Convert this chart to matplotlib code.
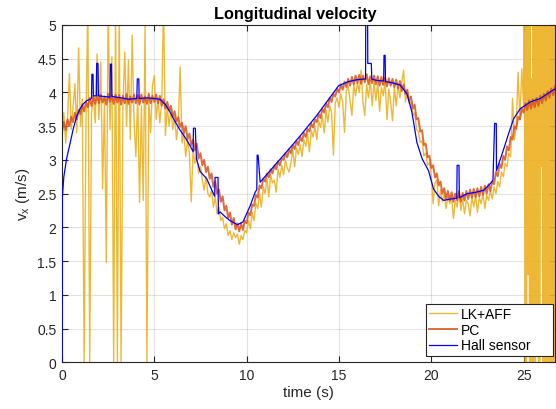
import numpy as np
import matplotlib
matplotlib.use("Agg")
import matplotlib.pyplot as plt

plt.rcParams['font.family'] = ['Liberation Sans', 'DejaVu Sans']
plt.rcParams['mathtext.default'] = 'regular'

# PC estimate, sampled every 0.1 s from 0 to 26.8 s (one row per second)
pc_v = [
    3.42, 3.56, 3.44, 3.60, 3.50, 3.64, 3.56, 3.70, 3.60, 3.74,
    3.68, 3.82, 3.72, 3.86, 3.78, 3.92, 3.80, 3.95, 3.83, 3.96,
    3.84, 3.97, 3.85, 3.94, 3.82, 3.98, 3.86, 3.96, 3.83, 3.97,
    3.85, 3.96, 3.82, 3.95, 3.84, 3.98, 3.83, 3.94, 3.85, 3.97,
    3.84, 3.96, 3.82, 3.97, 3.85, 3.94, 3.83, 3.98, 3.84, 3.95,
    3.86, 3.97, 3.84, 3.95, 3.80, 3.90, 3.76, 3.86, 3.74, 3.80,
    3.64, 3.72, 3.57, 3.63, 3.49, 3.55, 3.40, 3.50, 3.31, 3.39,
    3.22, 3.30, 3.14, 3.24, 3.02, 3.10, 2.92, 3.00, 2.82, 2.90,
    2.72, 2.80, 2.60, 2.68, 2.50, 2.56, 2.38, 2.46, 2.25, 2.32,
    2.14, 2.22, 2.04, 2.14, 1.97, 2.06, 1.94, 2.06, 1.96, 2.10,
    2.06, 2.22, 2.18, 2.34, 2.32, 2.48, 2.44, 2.62, 2.58, 2.72,
    2.68, 2.80, 2.74, 2.86, 2.80, 2.92, 2.86, 2.98, 2.92, 3.02,
    3.00, 3.10, 3.04, 3.16, 3.10, 3.22, 3.16, 3.28, 3.22, 3.34,
    3.28, 3.40, 3.34, 3.46, 3.42, 3.54, 3.48, 3.60, 3.56, 3.68,
    3.62, 3.76, 3.70, 3.84, 3.78, 3.92, 3.86, 3.98, 3.94, 4.06,
    4.00, 4.12, 4.04, 4.16, 4.08, 4.20, 4.10, 4.23, 4.12, 4.25,
    4.14, 4.26, 4.13, 4.25, 4.15, 4.27, 4.12, 4.24, 4.14, 4.25,
    4.12, 4.24, 4.10, 4.23, 4.11, 4.22, 4.09, 4.21, 4.10, 4.20,
    4.08, 4.19, 4.06, 4.17, 4.02, 4.12, 3.98, 4.04, 3.88, 3.94,
    3.76, 3.82, 3.60, 3.62, 3.42, 3.44, 3.22, 3.24, 3.04, 3.06,
    2.88, 2.92, 2.74, 2.80, 2.62, 2.68, 2.50, 2.58, 2.42, 2.54,
    2.40, 2.52, 2.38, 2.50, 2.40, 2.53, 2.38, 2.51, 2.40, 2.54,
    2.42, 2.56, 2.44, 2.57, 2.45, 2.58, 2.46, 2.60, 2.48, 2.62,
    2.50, 2.64, 2.54, 2.68, 2.64, 2.82, 2.76, 2.94, 2.88, 3.06,
    3.00, 3.20, 3.14, 3.34, 3.30, 3.50, 3.46, 3.64, 3.60, 3.76,
    3.70, 3.84, 3.74, 3.88, 3.76, 3.90, 3.78, 3.92, 3.80, 3.95,
    3.84, 3.98, 3.88, 4.02, 3.92, 4.06, 3.96, 4.10, 4.02,
]

# LK+AFF estimate, every 0.1 s from 0 to 24.9 s
lk_v = [
    3.30, 3.70, 3.25, 3.60, 4.28, 3.45, 3.80, 4.13, 3.40, 4.66,
    3.50, 3.90, 0.00, 3.60, 5.30, 0.00, 3.70, 3.95, 3.55, 4.57,
    3.60, 4.45, 2.57, 3.90, 1.48, 5.30, 3.45, 4.53, 0.00, 5.30,
    0.00, 5.30, 0.00, 3.80, 4.60, 3.50, 4.48, 3.30, 4.85, 3.60,
    3.05, 3.95, 2.37, 3.80, 2.40, 5.00, 0.00, 3.90, 3.40, 4.10,
    4.25, 3.60, 3.90, 3.55, 3.85, 5.30, 3.36, 3.80, 3.50, 3.75,
    3.45, 3.65, 3.30, 3.55, 4.38, 3.25, 3.40, 3.05, 3.30, 3.10,
    2.38, 3.15, 2.95, 3.05, 2.80, 2.90, 2.70, 2.55, 2.75, 2.50,
    2.45, 2.55, 2.30, 2.45, 2.20, 2.30, 2.10, 2.15, 1.98, 2.05,
    1.88, 1.95, 1.82, 1.92, 1.85, 1.90, 1.75, 1.88, 1.82, 1.95,
    1.92, 2.10, 1.98, 2.22, 2.10, 2.36, 2.28, 2.50, 2.30, 2.60,
    2.50, 2.72, 2.45, 2.78, 2.66, 2.70, 2.52, 2.86, 2.74, 2.92,
    2.78, 3.00, 2.88, 2.82, 2.96, 3.14, 2.90, 3.18, 3.08, 3.22,
    3.05, 3.30, 3.20, 3.38, 3.12, 3.44, 3.34, 3.50, 3.30, 3.58,
    3.48, 3.66, 3.40, 3.74, 3.56, 3.80, 3.70, 3.07, 3.84, 3.92,
    3.78, 3.98, 3.86, 3.41, 4.02, 4.10, 3.88, 3.66, 4.12, 3.95,
    4.15, 4.00, 4.33, 3.85, 3.66, 4.12, 3.92, 4.18, 3.80, 4.16,
    3.88, 4.15, 3.72, 4.08, 3.95, 4.18, 3.60, 4.05, 3.86, 3.58,
    4.08, 3.80, 4.12, 3.92, 4.15, 4.33, 3.86, 4.02, 3.84, 3.86,
    3.66, 3.70, 3.45, 3.42, 3.26, 3.28, 3.06, 3.10, 2.92, 2.96,
    2.78, 2.35, 2.66, 2.70, 2.32, 2.56, 2.38, 2.50, 2.28, 2.46,
    2.35, 2.45, 2.13, 2.40, 2.30, 2.55, 2.25, 2.42, 2.20, 2.40,
    2.35, 2.17, 2.45, 2.30, 2.48, 2.22, 2.44, 2.35, 2.50, 2.28,
    2.48, 2.40, 2.55, 2.42, 2.60, 2.50, 2.68, 2.60, 2.82, 2.75,
    2.95, 2.90, 3.10, 3.05, 3.91, 3.30, 3.50, 4.30, 3.60, 4.35,
]

# LK+AFF burst at the end, every 0.04 s from 25.0 to 26.8 s
lk_burst = [
    3.8, 5.6, 0.0, 5.6, 0.0, 5.6, 1.3, 5.6, 0.0, 5.6,
    0.0, 4.2, 0.0, 5.6, 0.0, 5.6, 0.0, 5.6, 0.5, 5.6,
    0.0, 5.6, 0.0, 5.6, 2.9, 5.6, 0.0, 5.6, 0.0, 5.6,
    0.0, 5.6, 0.0, 5.6, 0.0, 5.6, 0.0, 5.6, 0.0, 5.6,
    0.0, 5.6, 0.0, 5.6, 0.0, 4.1,
]

# Hall sensor
hall_t = [0, 0.02, 0.1, 0.25, 0.4, 0.61, 0.8, 0.98, 1.15, 1.34, 1.55,
          1.6, 1.62, 1.68, 1.7, 1.86, 1.88, 1.95, 1.97, 2.3, 2.6, 2.62, 2.68, 2.7,
          3.2, 3.6, 4.05, 4.08, 4.16, 4.18, 4.6, 5.0, 5.31, 5.6, 5.85, 6.1, 6.4,
          6.7, 6.94, 7.1, 7.12, 7.22, 7.28, 7.48, 7.84, 8.2, 8.27, 8.29, 8.45,
          8.47, 8.56, 8.83, 9.1, 9.5, 9.8, 10.19, 10.46, 10.55, 10.57, 10.62,
          10.73, 11.27, 12.0, 12.54, 13.0, 13.8, 14.5, 14.98, 15.5, 16.0, 16.44,
          16.46, 16.54, 16.56, 16.75, 16.78, 17.0, 17.42, 17.44, 17.5, 17.52,
          17.78, 18.32, 18.68, 18.95, 19.22, 19.5, 19.85, 20.12, 20.4, 20.67,
          21.03, 21.38, 21.4, 21.5, 21.52, 21.94, 22.4, 22.84, 23.2, 23.34,
          23.43, 23.52, 23.53, 23.92, 24.2, 24.46, 24.82, 25.37, 25.9, 26.45, 26.8]
hall_v = [0.0, 2.45, 2.75, 3.02, 3.20, 3.46, 3.65, 3.76, 3.83, 3.88, 3.90,
          3.92, 4.27, 4.27, 3.95, 3.95, 4.43, 4.43, 3.95, 3.94, 3.93, 4.42, 4.42, 3.94,
          3.92, 3.90, 3.91, 4.20, 4.20, 3.91, 3.92, 3.91, 3.90, 3.82, 3.71, 3.58, 3.44,
          3.32, 3.21, 3.12, 3.47, 3.47, 3.02, 2.83, 2.72, 2.50, 2.46, 2.74, 2.74,
          2.20, 2.23, 2.16, 2.10, 2.04, 2.08, 2.32, 2.52, 2.56, 3.07, 3.07,
          2.67, 2.84, 3.07, 3.24, 3.39, 3.66, 3.92, 4.10, 4.16, 4.19, 4.20,
          5.90, 5.90, 4.43, 4.43, 4.20, 4.18, 4.17, 4.55, 4.55, 4.16,
          4.15, 4.11, 3.98, 3.71, 3.26, 3.02, 2.84, 2.57, 2.46, 2.40,
          2.42, 2.43, 2.92, 2.92, 2.44, 2.50, 2.52, 2.55, 2.65, 2.70,
          3.54, 3.54, 2.84, 3.16, 3.40, 3.61, 3.76, 3.86, 3.91, 4.01, 4.07]

pc_t = np.arange(len(pc_v)) * 0.1
lk_t = np.concatenate([np.arange(len(lk_v)) * 0.1, 25.0 + np.arange(len(lk_burst)) * 0.04])
lk_all = np.concatenate([lk_v, lk_burst])

fig = plt.figure(figsize=(5.56, 4.10), dpi=100)
ax = fig.add_axes([0.1115, 0.1139, 0.8867, 0.8227])

ax.plot(lk_t, lk_all, color='#EDB120', lw=1.0, alpha=0.9, label='LK+AFF')
ax.plot(pc_t, pc_v, color='#D95319', lw=1.4, alpha=0.85, label='PC')
ax.plot(hall_t, hall_v, color='#0000FF', lw=0.9, label='Hall sensor', zorder=3)

ax.set_xlim(0, 26.7)
ax.set_ylim(0, 5)
ax.set_xticks([0, 5, 10, 15, 20, 25])
ax.set_yticks(np.arange(0, 5.01, 0.5))
ax.set_yticklabels(['0', '0.5', '1', '1.5', '2', '2.5', '3', '3.5', '4', '4.5', '5'])
ax.grid(True, color='#262626', alpha=0.13, lw=0.8)
ax.tick_params(direction='in', top=True, right=True, length=4, width=0.8,
               labelsize=10, colors='#262626', pad=4)
for s in ax.spines.values():
    s.set_color('#262626')
    s.set_linewidth(0.8)

ax.set_xlabel('time (s)', fontsize=11, color='#262626', labelpad=2)
ax.set_ylabel('v$_x$ (m/s)', fontsize=11, color='#262626', labelpad=4)
ax.set_title('Longitudinal velocity', fontsize=11.7, fontweight='bold', pad=5, x=0.473)

leg = ax.legend(loc='lower left', bbox_to_anchor=(0.738, 0.019, 0.258, 0.154),
                mode='expand', borderaxespad=0, fontsize=10, frameon=True,
                fancybox=False, edgecolor='#262626', framealpha=1,
                handlelength=2.0, handletextpad=0.3, labelspacing=0.12,
                borderpad=0.25)
leg.get_frame().set_linewidth(0.8)

fig.savefig('out.png', dpi=100)
